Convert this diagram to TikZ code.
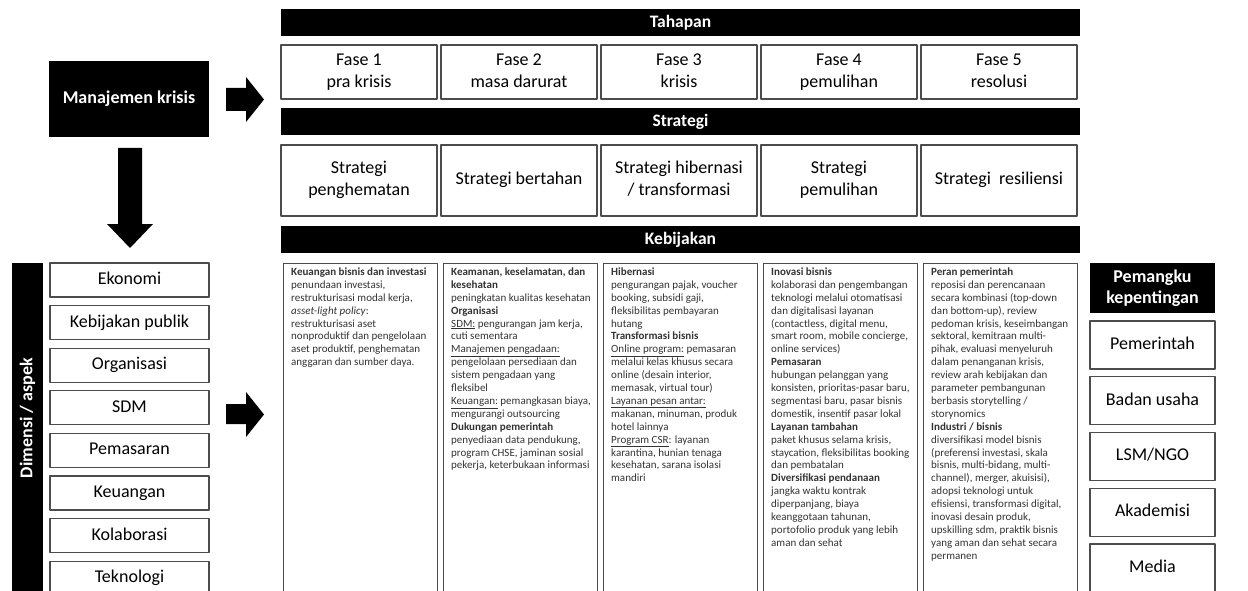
\documentclass[tikz,border=0pt]{standalone}
\usepackage{fontspec}
\setmainfont{Carlito}
\begin{document}
\begin{tikzpicture}[x=1pt,y=-1pt,line join=round,
    hdr/.style={fill=black,text=white,inner sep=0pt,font=\fontsize{17.5}{21}\selectfont\bfseries},
    box/.style={draw=black!70,line width=1.1pt,fill=white,inner sep=0pt,align=center,font=\fontsize{18}{22}\selectfont},
    col/.style={draw=black!70,line width=1.1pt,inner sep=0pt,anchor=north west,minimum width=154pt,minimum height=340pt},
    txt/.style={anchor=north west,inner sep=0pt,align=left,text=black!80,font=\fontsize{11}{12.9}\selectfont}]
    \useasboundingbox (0,0) rectangle (1248,591);
    % kiri
    \node[hdr,minimum width=160pt,minimum height=76pt,font=\fontsize{18}{22}\selectfont\bfseries] (krisis) at (129,99) {Manajemen krisis};
    \fill (226,88) -- (246,88) -- (246,77) -- (264,99.5) -- (246,122) -- (246,111) -- (226,111) -- cycle;
    \fill (118,148) -- (142,148) -- (142,224) -- (153,224) -- (130,248) -- (107,224) -- (118,224) -- cycle;
    \fill (226,404) -- (246,404) -- (246,392) -- (264,414.5) -- (246,437) -- (246,424) -- (226,424) -- cycle;
    \node[hdr,minimum width=31pt,minimum height=340pt] (dimensi) at (27.5,433) {};
    \node[rotate=90,text=white,inner sep=0pt,font=\fontsize{18}{22}\selectfont\bfseries] (dimlabel) at (27.5,418) {Dimensi / aspek};
    \foreach \n [count=\i from 0] in {Ekonomi,Kebijakan publik,Organisasi,SDM,Pemasaran,Keuangan,Kolaborasi,Teknologi}
        \node[box,minimum width=159pt,minimum height=34pt] (dim\i) at (129.5,{280+42.6*\i}) {\strut\n};
    % tahapan, strategi, kebijakan
    \node[hdr,minimum width=799pt,minimum height=27pt] (tahapan) at (680.5,22.5) {Tahapan};
    \node[hdr,minimum width=799pt,minimum height=27pt] (strategi) at (680.5,121.5) {Strategi};
    \node[hdr,minimum width=799pt,minimum height=27pt] (kebijakan) at (680.5,239.5) {Kebijakan};
    \foreach \i/\t in {1/pra krisis,2/masa darurat,3/krisis,4/pemulihan,5/resolusi}
        \node[box,minimum width=156pt,minimum height=54pt] (fase\i) at ({359+160*(\i-1)},72) {\strut Fase \i\\\t\strut};
    \foreach \i/\t in {1/{Strategi\\penghematan},2/{Strategi bertahan},3/{Strategi hibernasi\\/ transformasi},4/{Strategi\\pemulihan},5/{Strategi\ \ resiliensi}}
        \node[box,minimum width=156pt,minimum height=71pt] (str\i) at ({359+160*(\i-1)},180.5) {\strut\t\strut};
    \foreach \i in {1,...,5}
        \node[col] (kol\i) at ({283+160*(\i-1)},263) {};
    \node[txt] (isi1) at ([xshift=8pt,yshift=-4.5pt]kol1.north west) {%
        \textbf{Keuangan bisnis dan investasi}\\
        penundaan investasi,\\
        restrukturisasi modal kerja,\\
        \textit{asset-light policy}:\\
        restrukturisasi aset\\
        nonproduktif dan pengelolaan\\
        aset produktif, penghematan\\
        anggaran dan sumber daya.};
    \node[txt] (isi2) at ([xshift=8pt,yshift=-4.5pt]kol2.north west) {%
        \textbf{Keamanan, keselamatan, dan}\\
        \textbf{kesehatan}\\
        peningkatan kualitas kesehatan\\
        \textbf{Organisasi}\\
        \underline{SDM:} pengurangan jam kerja,\\
        cuti sementara\\
        \underline{Manajemen pengadaan:}\\
        pengelolaan persediaan dan\\
        sistem pengadaan yang\\
        fleksibel\\
        \underline{Keuangan:} pemangkasan biaya,\\
        mengurangi outsourcing\\
        \textbf{Dukungan pemerintah}\\
        penyediaan data pendukung,\\
        program CHSE, jaminan sosial\\
        pekerja, keterbukaan informasi};
    \node[txt] (isi3) at ([xshift=8pt,yshift=-4.5pt]kol3.north west) {%
        \textbf{Hibernasi}\\
        pengurangan pajak, voucher\\
        booking, subsidi gaji,\\
        fleksibilitas pembayaran\\
        hutang\\
        \textbf{Transformasi bisnis}\\
        \underline{Online program:} pemasaran\\
        melalui kelas khusus secara\\
        online (desain interior,\\
        memasak, virtual tour)\\
        \underline{Layanan pesan antar:}\\
        makanan, minuman, produk\\
        hotel lainnya\\
        \underline{Program CSR}: layanan\\
        karantina, hunian tenaga\\
        kesehatan, sarana isolasi\\
        mandiri};
    \node[txt] (isi4) at ([xshift=8pt,yshift=-4.5pt]kol4.north west) {%
        \textbf{Inovasi bisnis}\\
        kolaborasi dan pengembangan\\
        teknologi melalui otomatisasi\\
        dan digitalisasi layanan\\
        (contactless, digital menu,\\
        smart room, mobile concierge,\\
        online services)\\
        \textbf{Pemasaran}\\
        hubungan pelanggan yang\\
        konsisten, prioritas-pasar baru,\\
        segmentasi baru, pasar bisnis\\
        domestik, insentif pasar lokal\\
        \textbf{Layanan tambahan}\\
        paket khusus selama krisis,\\
        staycation, fleksibilitas booking\\
        dan pembatalan\\
        \textbf{Diversifikasi pendanaan}\\
        jangka waktu kontrak\\
        diperpanjang, biaya\\
        keanggotaan tahunan,\\
        portofolio produk yang lebih\\
        aman dan sehat};
    \node[txt] (isi5) at ([xshift=8pt,yshift=-4.5pt]kol5.north west) {%
        \textbf{Peran pemerintah}\\
        reposisi dan perencanaan\\
        secara kombinasi (top-down\\
        dan bottom-up), review\\
        pedoman krisis, keseimbangan\\
        sektoral, kemitraan multi-\\
        pihak, evaluasi menyeluruh\\
        dalam penanganan krisis,\\
        review arah kebijakan dan\\
        parameter pembangunan\\
        berbasis storytelling /\\
        storynomics\\
        \textbf{Industri / bisnis}\\
        diversifikasi model bisnis\\
        (preferensi investasi, skala\\
        bisnis, multi-bidang, multi-\\
        channel), merger, akuisisi),\\
        adopsi teknologi untuk\\
        efisiensi, transformasi digital,\\
        inovasi desain produk,\\
        upskilling sdm, praktik bisnis\\
        yang aman dan sehat secara\\
        permanen};
    % pemangku kepentingan
    \node[hdr,minimum width=125pt,minimum height=50pt,align=center,font=\fontsize{18}{21}\selectfont\bfseries] (pemangku) at (1152.5,288) {Pemangku\\kepentingan};
    \foreach \n [count=\i from 0] in {Pemerintah,Badan usaha,LSM/NGO,Akademisi,Media}
        \node[box,minimum width=125pt,minimum height=48pt] (pk\i) at (1152.5,{345+55.75*\i}) {\strut\n};
\end{tikzpicture}
\end{document}
